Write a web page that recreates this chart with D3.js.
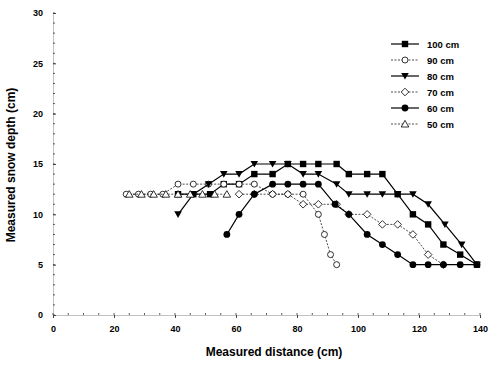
<!DOCTYPE html>
<html><head><meta charset="utf-8">
<script src="https://cdn.jsdelivr.net/npm/d3@7"></script>
<style>body{margin:0;background:#fff}svg{display:block}</style>
</head><body>
<svg id="c" width="503" height="365"></svg>
<script>
const xTicks = [0,20,40,60,80,100,120,140];
const yTicks = [0,5,10,15,20,25,30];
const seriesNames = ["100 cm","90 cm","80 cm","70 cm","60 cm","50 cm"];
const markers = ["square","circle","triangle","diamond","circleFill","triangleOpen"];
const x100 = [41,46,51.5,56,61,66,72,77,82,87,93,97,103,108,113,118,123,128,133.5,139];
const y100 = [12,12,12,13,13,14,14,15,15,15,15,14,14,14,12,10,9,7,6,5];
const x90 = [24,28,32,36,41,46,51,56,61,66,72,77,82,87,89,91,93];
const y90 = [12,12,12,12,13,13,13,13,13,13,12,12,12,10,8,6,5];
const x80 = [41,46,51,56,61,66,72,77,82,87,93,97,103,108,113,118,123,128.5,134,139];
const y80 = [10,12,13,14,14,15,15,15,14,14,13,12,12,12,12,12,11,9,7,5];
const x70 = [61,66,72,77,82,87,93,97,103,108,113,118,123,128];
const y70 = [12,12,12,12,11,11,11,10,10,9,9,8,6,5];
const x60 = [57,61,66,72,77,82,87,92.5,97,103,108,113,118,123,128,133.5,139];
const y60 = [8,10,12,13,13,13,13,11,10,8,7,6,5,5,5,5,5];
const x50 = [25,29,33,37,41,45,49,53,57];
const y50 = [12,12,12,12,12,12,12,12,12];
const xs = [x100,x90,x80,x70,x60,x50], ys = [y100,y90,y80,y70,y60,y50];

const svg = d3.select("#c");
const x = d3.scaleLinear().domain([0,140]).range([53,480]);
const y = d3.scaleLinear().domain([0,30]).range([315,13]);
const font = "Liberation Sans, Arial, sans-serif";

// axes
const xa = svg.append("g").attr("transform","translate(0,315)")
  .call(d3.axisBottom(x).tickValues(xTicks).tickSize(3).tickPadding(8));
const ya = svg.append("g").attr("transform","translate(53,0)")
  .call(d3.axisLeft(y).tickValues(yTicks).tickSize(-3).tickPadding(10));
[xa,ya].forEach(a=>{
  a.selectAll("text").attr("font-family",font).attr("font-size",9).attr("font-weight","bold").attr("fill","#000");
  a.selectAll("line").attr("stroke","#444");
  a.select(".domain").attr("stroke","#999").attr("stroke-width",0.6);
});
// minor ticks
svg.append("g").selectAll("line").data(d3.range(0,31,1)).join("line")
  .attr("x1",53).attr("x2",55).attr("y1",d=>y(d)).attr("y2",d=>y(d)).attr("stroke","#333").attr("stroke-width",0.8);
svg.append("g").selectAll("line").data(d3.range(0,141,5)).join("line")
  .attr("x1",d=>x(d)).attr("x2",d=>x(d)).attr("y1",315).attr("y2",313).attr("stroke","#333").attr("stroke-width",0.8);

svg.append("text").attr("x",274).attr("y",356).attr("text-anchor","middle")
  .attr("font-family",font).attr("font-size",12).attr("font-weight","bold").text("Measured distance (cm)");
svg.append("text").attr("transform","translate(15,165) rotate(-90)").attr("text-anchor","middle")
  .attr("font-family",font).attr("font-size",12).attr("font-weight","bold").text("Measured snow depth (cm)");

function marker(g, type, cx, cy){
  const s = 3.2;
  if(type==="square") g.append("rect").attr("x",cx-s).attr("y",cy-s).attr("width",2*s).attr("height",2*s).attr("fill","#000");
  else if(type==="circle") g.append("circle").attr("cx",cx).attr("cy",cy).attr("r",3).attr("fill","#fff").attr("stroke","#000").attr("stroke-width",0.8);
  else if(type==="circleFill") g.append("circle").attr("cx",cx).attr("cy",cy).attr("r",3.4).attr("fill","#000");
  else if(type==="triangle") g.append("path").attr("d",`M${cx-3.8},${cy-3}L${cx+3.8},${cy-3}L${cx},${cy+3.6}Z`).attr("fill","#000");
  else if(type==="diamond") g.append("path").attr("d",`M${cx},${cy-3.8}L${cx+3.8},${cy}L${cx},${cy+3.8}L${cx-3.8},${cy}Z`).attr("fill","#fff").attr("stroke","#000").attr("stroke-width",0.8);
  else if(type==="triangleOpen") g.append("path").attr("d",`M${cx},${cy-3.6}L${cx+3.8},${cy+3}L${cx-3.8},${cy+3}Z`).attr("fill","#fff").attr("stroke","#000").attr("stroke-width",0.8);
}

const line = d3.line().x(d=>x(d[0])).y(d=>y(d[1]));
seriesNames.forEach((n,i)=>{
  const pts = xs[i].map((v,j)=>[v,ys[i][j]]);
  const g = svg.append("g");
  const hollow = ["circle","diamond","triangleOpen"].includes(markers[i]);
  g.append("path").attr("d",line(pts)).attr("fill","none").attr("stroke","#000")
    .attr("stroke-width",hollow?0.7:1.2).attr("stroke-dasharray",hollow?"2,1.5":null);
  pts.forEach(p=>marker(g,markers[i],x(p[0]),y(p[1])));
});

// legend
const lg = svg.append("g");
seriesNames.forEach((n,i)=>{
  const ly = 44 + i*16;
  const hollow = ["circle","diamond","triangleOpen"].includes(markers[i]);
  lg.append("line").attr("x1",391).attr("x2",419).attr("y1",ly).attr("y2",ly).attr("stroke","#000")
    .attr("stroke-width",hollow?0.7:1.2).attr("stroke-dasharray",hollow?"2,1.5":null);
  marker(lg,markers[i],405,ly);
  lg.append("text").attr("x",427).attr("y",ly+3.5).attr("font-family",font).attr("font-size",9.5)
    .attr("font-weight","bold").text(n);
});
</script>
</body></html>
